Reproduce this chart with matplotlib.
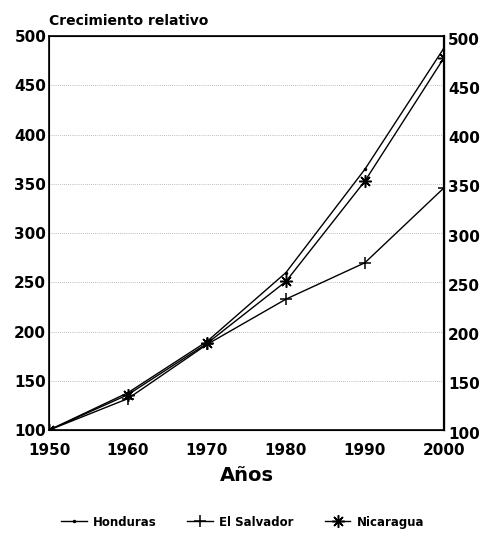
import matplotlib.pyplot as plt
import matplotlib.transforms as mtransforms

plt.rcParams['font.family'] = ['DejaVu Sans']
plt.rcParams['font.weight'] = 'bold'

years = [1950, 1960, 1970, 1980, 1990, 2000]
honduras = [100, 138, 190, 260, 365, 488]
el_salvador = [100, 132, 187, 233, 270, 346]
nicaragua = [100, 136, 188, 251, 353, 478]
yticks = [100, 150, 200, 250, 300, 350, 400, 450, 500]

fig = plt.figure(figsize=(4.9, 5.41), dpi=100)
ax = fig.add_axes([0.1, 0.205, 0.806, 0.728])

ax.plot(years, honduras, color='black', lw=1, marker='.', ms=3, label='Honduras')
ax.plot(years, el_salvador, color='black', lw=1, marker='+', ms=9, mew=1.1, label='El Salvador')
ax.plot(years, nicaragua, color='black', lw=1, marker=(8, 2, 0), ms=9, mew=1.1, label='Nicaragua')

ax.set_xlim(1950, 2000)
ax.set_ylim(100, 500)
ax.set_xticks(years)
ax.set_yticks(yticks)
ax.tick_params(axis='y', length=0, labelsize=11, pad=2)
ax.tick_params(axis='x', length=0, labelsize=11, pad=9)
ax.grid(axis='y', linestyle=(0, (1, 2)), color='black', lw=0.5, alpha=0.5)
for s in ax.spines.values():
    s.set_linewidth(1.2)
ax.spines['right'].set_linewidth(1.6)

ax2 = ax.twinx()
ax2.set_ylim(100, 500)
ax2.set_yticks(yticks)
ax2.tick_params(length=0, labelsize=11, pad=3)
shift = mtransforms.ScaledTranslation(0, -0.025, fig.dpi_scale_trans)
for lab in ax2.get_yticklabels():
    lab.set_transform(lab.get_transform() + shift)

ax.set_xlabel('Años', fontsize=14, fontweight='bold', labelpad=6)
fig.text(0.1, 0.953, 'Crecimiento relativo', fontsize=10, fontweight='bold', ha='left')

ax.legend(loc='upper center', bbox_to_anchor=(0.49, -0.19), ncol=3, frameon=False,
          prop={'size': 8.5, 'weight': 'bold'}, handlelength=2.2, handletextpad=0.5,
          columnspacing=2.6)

fig.savefig('out.png', dpi=100)
